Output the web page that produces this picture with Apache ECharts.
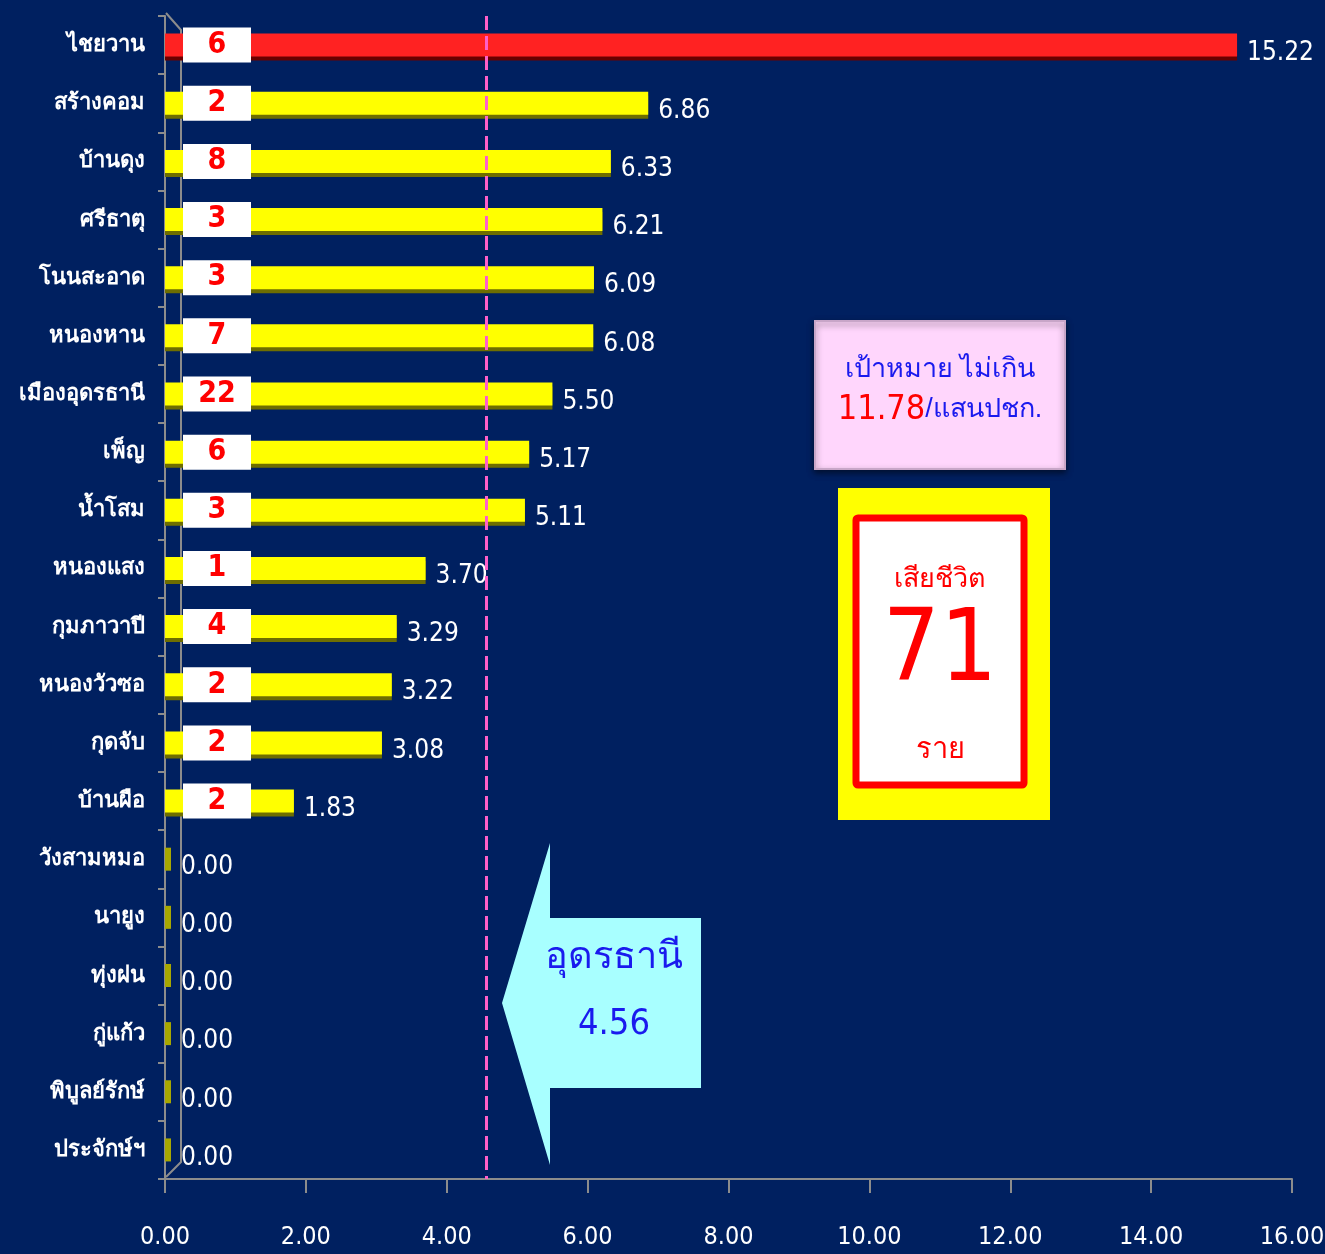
<!DOCTYPE html>
<html>
<head>
<meta charset="utf-8">
<script src="https://cdn.jsdelivr.net/npm/echarts@6/dist/echarts.min.js"></script>
<style>
  html, body { margin: 0; padding: 0; background: #002060; }
  #main { width: 1325px; height: 1254px; }
</style>
</head>
<body>
<div id="main"></div>
<script>
// อำเภอ (เรียงจากมากไปน้อย)
var districts = ["ไชยวาน", "สร้างคอม", "บ้านดุง", "ศรีธาตุ", "โนนสะอาด", "หนองหาน", "เมืองอุดรธานี", "เพ็ญ", "น้ำโสม", "หนองแสง",
  "กุมภาวาปี", "หนองวัวซอ", "กุดจับ", "บ้านผือ", "วังสามหมอ", "นายูง", "ทุ่งฝน", "กู่แก้ว", "พิบูลย์รักษ์", "ประจักษ์ฯ"];
// อัตราตายต่อแสนประชากร
var rates = [15.22, 6.86, 6.33, 6.21, 6.09, 6.08, 5.50, 5.17, 5.11, 3.70,
  3.29, 3.22, 3.08, 1.83, 0, 0, 0, 0, 0, 0];
// จำนวนเสียชีวิต (ราย)
var deaths = [6, 2, 8, 3, 3, 7, 22, 6, 3, 1, 4, 2, 2, 2, 0, 0, 0, 0, 0, 0];

var provinceRate = 4.56;
var targetRate = 11.78;
var totalDeaths = 71;

var numFont = "'DejaVu Sans Condensed', 'Liberation Sans Narrow', sans-serif";
var blue = "#1a1aee";

var chart = echarts.init(document.getElementById("main"));

// ข้อมูลแท่ง
var barData = rates.map(function(v, i) {
  var top = i === 0;
  var zero = v === 0;
  return {
    value: v,
    itemStyle: {
      color: top ? "#ff2222" : (zero ? "#a8a800" : "#ffff00"),
      shadowColor: top ? "#6a0000" : "#6e6e00",
      shadowOffsetY: zero ? 0 : 4,
      shadowOffsetX: 0,
      shadowBlur: 0
    }
  };
});

// กล่องจำนวนเสียชีวิต
var deathData = rates.map(function(v, i) {
  return {
    value: v,
    label: { show: deaths[i] > 0 }
  };
});

var axisGray = "#8c8c8c";

var option = {
  backgroundColor: "#002060",
  animation: false,
  grid: { left: 165, right: 33, top: 16, bottom: 75, containLabel: false, outerBoundsMode: "none" },
  xAxis: {
    type: "value",
    min: 0,
    max: 16,
    interval: 2,
    axisLine: { show: true, lineStyle: { color: axisGray, width: 2 } },
    axisTick: { show: true, length: 14, lineStyle: { color: axisGray, width: 2 } },
    splitLine: { show: false },
    axisLabel: {
      color: "#ffffff",
      fontFamily: numFont,
      fontSize: 25,
      margin: 46,
      formatter: function(v) { return v.toFixed(2); }
    }
  },
  yAxis: {
    type: "category",
    inverse: true,
    data: districts,
    axisLine: { show: true, lineStyle: { color: axisGray, width: 2 } },
    axisTick: { show: true, length: 7, lineStyle: { color: axisGray, width: 2 } },
    axisLabel: {
      color: "#ffffff",
      fontWeight: "bold",
      fontSize: 22,
      margin: 20
    }
  },
  series: [
    {
      type: "bar",
      data: barData,
      barWidth: 23,
      barMinHeight: 6,
      label: {
        show: true,
        position: "right",
        distance: 10,
        offset: [0, 8],
        color: "#ffffff",
        fontFamily: numFont,
        fontSize: 26,
        formatter: function(p) { return p.value.toFixed(2); }
      },
      markLine: {
        silent: true,
        symbol: "none",
        label: { show: false },
        lineStyle: { color: "#ff5fc8", type: [14, 6], width: 3 },
        data: [{ xAxis: provinceRate }]
      },
      z: 2
    },
    {
      type: "bar",
      data: deathData,
      barWidth: 23,
      barGap: "-100%",
      itemStyle: { color: "transparent" },
      label: {
        show: true,
        position: [52, "50%"],
        align: "center",
        verticalAlign: "middle",
        backgroundColor: "#ffffff",
        width: 60,
        height: 35,
        lineHeight: 35,
        padding: [0, 4],
        color: "#ff0000",
        fontFamily: numFont,
        fontWeight: "bold",
        fontSize: 30,
        formatter: function(p) { return deaths[p.dataIndex]; }
      },
      z: 3
    }
  ],
  graphic: [
    // ผนังด้านหลังแบบ 3 มิติ
    {
      type: "polyline",
      shape: { points: [[166, 13], [181, 30], [181, 1162], [166, 1177]] },
      style: { stroke: axisGray, lineWidth: 2, fill: null },
      z: 1
    },
    {
      type: "polygon",
      shape: { points: [[502, 1003], [550, 843], [550, 918], [701, 918], [701, 1088], [550, 1088], [550, 1165]] },
      style: { fill: "#a8ffff" },
      z: 10
    },
    {
      type: "text",
      x: 614, y: 958,
      style: { text: "อุดรธานี", fill: blue, fontSize: 38, align: "center", verticalAlign: "middle" },
      z: 11
    },
    {
      type: "text",
      x: 614, y: 1025,
      style: { text: provinceRate.toFixed(2), fill: blue, fontSize: 36, fontFamily: numFont, align: "center", verticalAlign: "middle" },
      z: 11
    },
    {
      type: "rect",
      shape: { x: 815, y: 321, width: 250, height: 148 },
      style: { fill: "#ffd6fc", stroke: "#c8a6c8", lineWidth: 2, shadowBlur: 6, shadowColor: "rgba(0,0,0,0.5)", shadowOffsetY: 3 },
      z: 10
    },
    {
      type: "text",
      x: 940, y: 370,
      style: { text: "เป้าหมาย ไม่เกิน", fill: blue, fontSize: 27, align: "center", verticalAlign: "middle" },
      z: 11
    },
    {
      type: "text",
      x: 940, y: 410,
      style: {
        text: "{r|" + targetRate.toFixed(2) + "}{b|/แสนปชก.}",
        align: "center",
        verticalAlign: "middle",
        rich: {
          r: { fill: "#ff0000", fontSize: 34, fontFamily: numFont },
          b: { fill: blue, fontSize: 27 }
        }
      },
      z: 11
    },
    {
      type: "rect",
      shape: { x: 838, y: 488, width: 212, height: 332 },
      style: { fill: "#ffff00" },
      z: 10
    },
    {
      type: "rect",
      shape: { x: 856, y: 518, width: 168, height: 267, r: 2 },
      style: { fill: "#ffffff", stroke: "#ff0000", lineWidth: 7 },
      z: 11
    },
    {
      type: "text",
      x: 940, y: 580,
      style: { text: "เสียชีวิต", fill: "#ff0000", fontSize: 27, align: "center", verticalAlign: "middle" },
      z: 12
    },
    {
      type: "text",
      x: 940, y: 654,
      style: { text: String(totalDeaths), fill: "#ff0000", fontSize: 100, fontFamily: numFont, align: "center", verticalAlign: "middle" },
      z: 12
    },
    {
      type: "text",
      x: 940, y: 750,
      style: { text: "ราย", fill: "#ff0000", fontSize: 29, align: "center", verticalAlign: "middle" },
      z: 12
    }
  ]
};

chart.setOption(option);
</script>
</body>
</html>
